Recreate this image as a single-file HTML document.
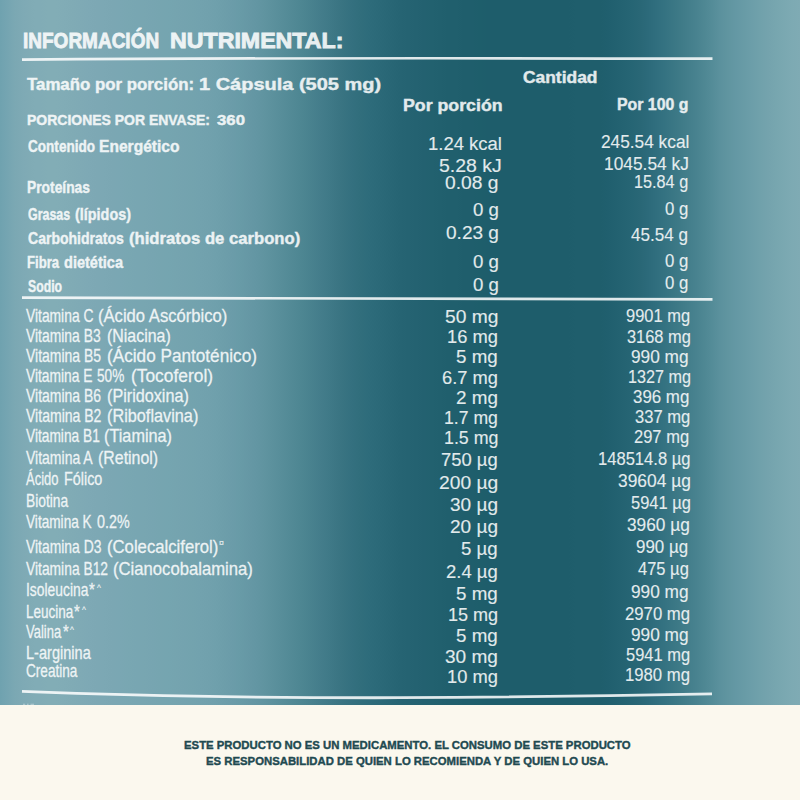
<!DOCTYPE html>
<html lang="es">
<head>
<meta charset="utf-8">
<title>Información Nutrimental</title>
<style>
html,body{margin:0;padding:0;}
body{width:800px;height:800px;overflow:hidden;background:#fbf8ee;font-family:"Liberation Sans",sans-serif;}
#label{position:absolute;left:0;top:0;width:800px;height:800px;overflow:hidden;background:#fbf8ee;}
#panel{position:absolute;left:0;top:0;width:800px;height:704.5px;
background:linear-gradient(90deg,#6fa2af 0px,#73a4b1 5px,#77a6b2 10px,#7ba8b3 15px,#7da9b4 20px,#7faab5 25px,#80abb5 30px,#81acb6 35px,#81acb6 40px,#82adb6 48px,#82adb6 56px,#81acb6 64px,#80abb5 72px,#7faab5 80px,#7ea9b5 88px,#7da8b4 96px,#7ca8b4 104px,#7ba7b3 112px,#7aa7b3 120px,#79a7b2 128px,#78a6b2 136px,#78a6b1 144px,#77a5b1 152px,#76a5b0 160px,#75a5b0 168px,#75a4af 176px,#74a3af 184px,#73a3ae 192px,#72a2ae 200px,#71a1ad 208px,#6fa0ac 216px,#6d9eaa 224px,#6b9ca9 232px,#689ba7 240px,#6698a5 248px,#6396a3 256px,#6094a0 264px,#5c919d 272px,#588e9a 280px,#548b97 288px,#508894 296px,#4c8591 304px,#48818e 312px,#447d8b 320px,#407a88 328px,#3c7684 336px,#387381 344px,#34707f 352px,#316e7c 360px,#2e6c7b 368px,#2c6a79 376px,#2a6877 384px,#286675 392px,#266473 400px,#256372 408px,#246271 416px,#236170 424px,#22616f 432px,#21606e 440px,#205f6d 448px,#205f6d 456px,#1f5e6c 464px,#1f5e6c 472px,#1e5e6b 480px,#1e5d6b 488px,#1e5d6b 496px,#1e5d6b 504px,#1e5d6b 512px,#1e5d6b 520px,#1e5d6b 528px,#1e5d6b 536px,#1e5d6b 544px,#1e5d6b 552px,#1e5d6b 560px,#1e5d6b 568px,#1f5e6c 576px,#1f5e6c 584px,#1f5e6c 592px,#1f5e6c 600px,#205f6e 608px,#226170 616px,#246372 624px,#266574 632px,#296776 640px,#2c6a7a 648px,#306e7e 656px,#347281 664px,#397684 672px,#3e7a87 680px,#437e8b 688px,#48828f 696px,#4e8793 704px,#548c98 712px,#5b919d 720px,#6095a0 728px,#6498a4 736px,#689ba6 744px,#6c9ea9 752px,#70a1ab 760px,#74a3ad 768px,#77a6af 776px,#7aa8b1 784px,#7daab3 792px,#7fabb4 800px);}
.t{position:absolute;white-space:pre;line-height:1;color:#fff;opacity:.87;transform-origin:0 0;font-weight:400;}
svg{position:absolute;left:0;top:0;}
</style>
</head>
<body>
<div id="label">
<div id="panel"></div>
<svg width="800" height="800" viewBox="0 0 800 800" fill="none" stroke="#fff" stroke-opacity=".86" stroke-width="2.7" stroke-linecap="butt">
<path d="M22 59.6 Q 300 57.5 712.5 58.7"/>
<path d="M22 297.7 Q 350 299.9 712.5 299.4"/>
<path d="M22 691.4 C 150 696.6 300 697.9 400 697.7 C 520 697.2 620 695.7 712 693.8" stroke-width="2.8"/>
<path d="M23 704.2h2.2M27 704.2h1.6M30.5 704.2h3.5" stroke-width="1.1" opacity=".5"/>
</svg>
<div class="t" style="left:23.02px;top:29.01px;font-size:22.8px;transform:scaleX(0.8334);font-weight:700;-webkit-text-stroke:0.9px #fff;">INFORMACIÓN</div>
<div class="t" style="left:169.83px;top:29.01px;font-size:22.8px;transform:scaleX(1.0171);font-weight:700;-webkit-text-stroke:0.9px #fff;">NUTRIMENTAL:</div>
<div class="t" style="left:27.20px;top:76.21px;font-size:16.3px;transform:scaleX(1.0338);font-weight:700;-webkit-text-stroke:0.4px #fff;">Tamaño por porción:</div>
<div class="t" style="left:199.03px;top:76.40px;font-size:17.0px;transform:scaleX(1.1750);font-weight:700;-webkit-text-stroke:0.4px #fff;">1 Cápsula (505 mg)</div>
<div class="t" style="left:523.20px;top:70.25px;font-size:16px;transform:scaleX(1.0876);font-weight:700;-webkit-text-stroke:0.4px #fff;">Cantidad</div>
<div class="t" style="left:402.84px;top:98.25px;font-size:16px;transform:scaleX(1.1090);font-weight:700;-webkit-text-stroke:0.4px #fff;">Por porción</div>
<div class="t" style="left:617.46px;top:97.00px;font-size:16px;transform:scaleX(0.9906);font-weight:700;-webkit-text-stroke:0.4px #fff;">Por 100 g</div>
<div class="t" style="left:27.20px;top:114.10px;font-size:13.8px;transform:scaleX(1.0129);font-weight:700;-webkit-text-stroke:0.4px #fff;">PORCIONES POR ENVASE:</div>
<div class="t" style="left:217.20px;top:114.10px;font-size:13.8px;transform:scaleX(1.2143);font-weight:700;-webkit-text-stroke:0.4px #fff;">360</div>
<div class="t" style="left:27.70px;top:138.21px;font-size:16.3px;transform:scaleX(0.8331);font-weight:700;-webkit-text-stroke:0.4px #fff;">Contenido</div>
<div class="t" style="left:99.24px;top:138.21px;font-size:16.3px;transform:scaleX(0.9568);font-weight:700;-webkit-text-stroke:0.4px #fff;">Energético</div>
<div class="t" style="left:26.85px;top:179.21px;font-size:16.3px;transform:scaleX(0.8490);font-weight:700;-webkit-text-stroke:0.4px #fff;">Proteínas</div>
<div class="t" style="left:27.70px;top:205.71px;font-size:16.3px;transform:scaleX(0.7632);font-weight:700;-webkit-text-stroke:0.4px #fff;">Grasas</div>
<div class="t" style="left:75.20px;top:205.71px;font-size:16.3px;transform:scaleX(0.8842);font-weight:700;-webkit-text-stroke:0.4px #fff;">(lípidos)</div>
<div class="t" style="left:27.70px;top:230.01px;font-size:16.3px;transform:scaleX(0.8619);font-weight:700;-webkit-text-stroke:0.4px #fff;">Carbohidratos</div>
<div class="t" style="left:128.95px;top:230.01px;font-size:16.3px;transform:scaleX(1.0235);font-weight:700;-webkit-text-stroke:0.4px #fff;">(hidratos de carbono)</div>
<div class="t" style="left:26.89px;top:254.21px;font-size:16.3px;transform:scaleX(0.8075);font-weight:700;-webkit-text-stroke:0.4px #fff;">Fibra</div>
<div class="t" style="left:63.95px;top:254.21px;font-size:16.3px;transform:scaleX(0.8933);font-weight:700;-webkit-text-stroke:0.4px #fff;">dietética</div>
<div class="t" style="left:27.70px;top:277.51px;font-size:16.3px;transform:scaleX(0.7532);font-weight:700;-webkit-text-stroke:0.4px #fff;">Sodio</div>
<div class="t" style="left:428.28px;top:134.51px;font-size:18.0px;transform:scaleX(1.0262);-webkit-text-stroke:0.12px #fff;">1.24 kcal</div>
<div class="t" style="left:439.06px;top:156.76px;font-size:18.0px;transform:scaleX(1.0806);-webkit-text-stroke:0.12px #fff;">5.28 kJ</div>
<div class="t" style="left:445.06px;top:173.76px;font-size:18.0px;transform:scaleX(1.0682);-webkit-text-stroke:0.12px #fff;">0.08 g</div>
<div class="t" style="left:472.56px;top:200.51px;font-size:18.0px;transform:scaleX(1.0362);-webkit-text-stroke:0.12px #fff;">0 g</div>
<div class="t" style="left:445.56px;top:223.76px;font-size:18.0px;transform:scaleX(1.0580);-webkit-text-stroke:0.12px #fff;">0.23 g</div>
<div class="t" style="left:472.56px;top:253.01px;font-size:18.0px;transform:scaleX(1.0362);-webkit-text-stroke:0.12px #fff;">0 g</div>
<div class="t" style="left:472.56px;top:275.51px;font-size:18.0px;transform:scaleX(1.0362);-webkit-text-stroke:0.12px #fff;">0 g</div>
<div class="t" style="left:600.81px;top:133.26px;font-size:18.0px;transform:scaleX(0.9595);-webkit-text-stroke:0.12px #fff;">245.54 kcal</div>
<div class="t" style="left:604.10px;top:155.01px;font-size:18.0px;transform:scaleX(0.9630);-webkit-text-stroke:0.12px #fff;">1045.54 kJ</div>
<div class="t" style="left:634.16px;top:173.26px;font-size:18.0px;transform:scaleX(0.9024);-webkit-text-stroke:0.12px #fff;">15.84 g</div>
<div class="t" style="left:665.06px;top:200.01px;font-size:18.0px;transform:scaleX(0.9320);-webkit-text-stroke:0.12px #fff;">0 g</div>
<div class="t" style="left:631.31px;top:226.26px;font-size:18.0px;transform:scaleX(0.9506);-webkit-text-stroke:0.12px #fff;">45.54 g</div>
<div class="t" style="left:665.06px;top:252.01px;font-size:18.0px;transform:scaleX(0.9320);-webkit-text-stroke:0.12px #fff;">0 g</div>
<div class="t" style="left:665.06px;top:273.76px;font-size:18.0px;transform:scaleX(0.9320);-webkit-text-stroke:0.12px #fff;">0 g</div>
<div class="t" style="left:26.39px;top:308.41px;font-size:17.9px;transform:scaleX(0.7733);-webkit-text-stroke:0.28px #fff;">Vitamina C</div>
<div class="t" style="left:98.01px;top:308.41px;font-size:17.9px;transform:scaleX(0.9290);-webkit-text-stroke:0.28px #fff;">(Ácido Ascórbico)</div>
<div class="t" style="left:26.39px;top:328.41px;font-size:17.9px;transform:scaleX(0.7763);-webkit-text-stroke:0.28px #fff;">Vitamina B3</div>
<div class="t" style="left:106.95px;top:328.41px;font-size:17.9px;transform:scaleX(0.8908);-webkit-text-stroke:0.28px #fff;">(Niacina)</div>
<div class="t" style="left:26.39px;top:348.41px;font-size:17.9px;transform:scaleX(0.7805);-webkit-text-stroke:0.28px #fff;">Vitamina B5</div>
<div class="t" style="left:106.88px;top:348.41px;font-size:17.9px;transform:scaleX(0.9601);-webkit-text-stroke:0.28px #fff;">(Ácido Pantoténico)</div>
<div class="t" style="left:26.39px;top:368.41px;font-size:17.9px;transform:scaleX(0.7718);-webkit-text-stroke:0.28px #fff;">Vitamina E</div>
<div class="t" style="left:97.34px;top:368.41px;font-size:17.9px;transform:scaleX(0.7610);-webkit-text-stroke:0.28px #fff;">50%</div>
<div class="t" style="left:131.27px;top:368.41px;font-size:17.9px;transform:scaleX(0.9706);-webkit-text-stroke:0.28px #fff;">(Tocoferol)</div>
<div class="t" style="left:26.39px;top:388.41px;font-size:17.9px;transform:scaleX(0.7805);-webkit-text-stroke:0.28px #fff;">Vitamina B6</div>
<div class="t" style="left:106.94px;top:388.41px;font-size:17.9px;transform:scaleX(0.9040);-webkit-text-stroke:0.28px #fff;">(Piridoxina)</div>
<div class="t" style="left:26.39px;top:408.41px;font-size:17.9px;transform:scaleX(0.7846);-webkit-text-stroke:0.28px #fff;">Vitamina B2</div>
<div class="t" style="left:106.93px;top:408.41px;font-size:17.9px;transform:scaleX(0.9091);-webkit-text-stroke:0.28px #fff;">(Riboflavina)</div>
<div class="t" style="left:26.39px;top:428.16px;font-size:17.9px;transform:scaleX(0.7680);-webkit-text-stroke:0.28px #fff;">Vitamina B1</div>
<div class="t" style="left:103.73px;top:428.16px;font-size:17.9px;transform:scaleX(0.9081);-webkit-text-stroke:0.28px #fff;">(Tiamina)</div>
<div class="t" style="left:26.39px;top:450.16px;font-size:17.9px;transform:scaleX(0.7822);-webkit-text-stroke:0.28px #fff;">Vitamina A</div>
<div class="t" style="left:98.05px;top:450.16px;font-size:17.9px;transform:scaleX(0.8899);-webkit-text-stroke:0.28px #fff;">(Retinol)</div>
<div class="t" style="left:26.39px;top:471.41px;font-size:17.9px;transform:scaleX(0.7247);-webkit-text-stroke:0.28px #fff;">Ácido</div>
<div class="t" style="left:64.04px;top:471.41px;font-size:17.9px;transform:scaleX(0.8022);-webkit-text-stroke:0.28px #fff;">Fólico</div>
<div class="t" style="left:25.62px;top:492.66px;font-size:17.9px;transform:scaleX(0.7715);-webkit-text-stroke:0.28px #fff;">Biotina</div>
<div class="t" style="left:26.39px;top:514.41px;font-size:17.9px;transform:scaleX(0.7625);-webkit-text-stroke:0.28px #fff;">Vitamina K</div>
<div class="t" style="left:97.34px;top:514.41px;font-size:17.9px;transform:scaleX(0.8006);-webkit-text-stroke:0.28px #fff;">0.2%</div>
<div class="t" style="left:26.39px;top:538.66px;font-size:17.9px;transform:scaleX(0.7767);-webkit-text-stroke:0.28px #fff;">Vitamina D3</div>
<div class="t" style="left:106.91px;top:538.66px;font-size:17.9px;transform:scaleX(0.9333);-webkit-text-stroke:0.28px #fff;">(Colecalciferol)</div>
<div class="t" style="left:26.39px;top:560.91px;font-size:17.9px;transform:scaleX(0.7733);-webkit-text-stroke:0.28px #fff;">Vitamina B12</div>
<div class="t" style="left:113.41px;top:560.91px;font-size:17.9px;transform:scaleX(0.9313);-webkit-text-stroke:0.28px #fff;">(Cianocobalamina)</div>
<div class="t" style="left:25.62px;top:582.21px;font-size:17.9px;transform:scaleX(0.7746);-webkit-text-stroke:0.28px #fff;">Isoleucina</div>
<div class="t" style="left:89.34px;top:582.21px;font-size:17.9px;transform:scaleX(0.8314);-webkit-text-stroke:0.28px #fff;">*</div>
<div class="t" style="left:25.63px;top:603.71px;font-size:17.9px;transform:scaleX(0.7562);-webkit-text-stroke:0.28px #fff;">Leucina</div>
<div class="t" style="left:74.34px;top:603.71px;font-size:17.9px;transform:scaleX(0.8314);-webkit-text-stroke:0.28px #fff;">*</div>
<div class="t" style="left:26.39px;top:624.21px;font-size:17.9px;transform:scaleX(0.7258);-webkit-text-stroke:0.28px #fff;">Valina</div>
<div class="t" style="left:62.84px;top:624.21px;font-size:17.9px;transform:scaleX(0.8314);-webkit-text-stroke:0.28px #fff;">*</div>
<div class="t" style="left:25.58px;top:644.50px;font-size:17.9px;transform:scaleX(0.8137);-webkit-text-stroke:0.28px #fff;">L-arginina</div>
<div class="t" style="left:26.39px;top:663.00px;font-size:17.9px;transform:scaleX(0.7606);-webkit-text-stroke:0.28px #fff;">Creatina</div>
<div class="t" style="left:218.56px;top:539.01px;font-size:9px;transform:scaleX(0.9760);-webkit-text-stroke:0.12px #fff;">¤</div>
<div class="t" style="left:96.56px;top:583.01px;font-size:9.5px;transform:scaleX(0.8760);-webkit-text-stroke:0.12px #fff;">^</div>
<div class="t" style="left:81.56px;top:604.51px;font-size:9.5px;transform:scaleX(0.8760);-webkit-text-stroke:0.12px #fff;">^</div>
<div class="t" style="left:70.06px;top:625.01px;font-size:9.5px;transform:scaleX(0.8760);-webkit-text-stroke:0.12px #fff;">^</div>
<div class="t" style="left:444.56px;top:307.51px;font-size:18.0px;transform:scaleX(1.0686);-webkit-text-stroke:0.12px #fff;">50 mg</div>
<div class="t" style="left:447.04px;top:328.01px;font-size:18.0px;transform:scaleX(1.0180);-webkit-text-stroke:0.12px #fff;">16 mg</div>
<div class="t" style="left:456.31px;top:348.01px;font-size:18.0px;transform:scaleX(1.0416);-webkit-text-stroke:0.12px #fff;">5 mg</div>
<div class="t" style="left:442.06px;top:368.76px;font-size:18.0px;transform:scaleX(1.0160);-webkit-text-stroke:0.12px #fff;">6.7 mg</div>
<div class="t" style="left:456.06px;top:388.76px;font-size:18.0px;transform:scaleX(1.0480);-webkit-text-stroke:0.12px #fff;">2 mg</div>
<div class="t" style="left:444.08px;top:408.76px;font-size:18.0px;transform:scaleX(0.9785);-webkit-text-stroke:0.12px #fff;">1.7 mg</div>
<div class="t" style="left:443.57px;top:428.76px;font-size:18.0px;transform:scaleX(0.9880);-webkit-text-stroke:0.12px #fff;">1.5 mg</div>
<div class="t" style="left:441.31px;top:451.26px;font-size:18.0px;transform:scaleX(1.0225);-webkit-text-stroke:0.12px #fff;">750 µg</div>
<div class="t" style="left:438.81px;top:473.76px;font-size:18.0px;transform:scaleX(1.0685);-webkit-text-stroke:0.12px #fff;">200 µg</div>
<div class="t" style="left:450.06px;top:495.51px;font-size:18.0px;transform:scaleX(1.0560);-webkit-text-stroke:0.12px #fff;">30 µg</div>
<div class="t" style="left:450.06px;top:518.01px;font-size:18.0px;transform:scaleX(1.0560);-webkit-text-stroke:0.12px #fff;">20 µg</div>
<div class="t" style="left:461.31px;top:540.01px;font-size:18.0px;transform:scaleX(1.0363);-webkit-text-stroke:0.12px #fff;">5 µg</div>
<div class="t" style="left:446.31px;top:563.01px;font-size:18.0px;transform:scaleX(1.0250);-webkit-text-stroke:0.12px #fff;">2.4 µg</div>
<div class="t" style="left:456.31px;top:584.51px;font-size:18.0px;transform:scaleX(1.0416);-webkit-text-stroke:0.12px #fff;">5 mg</div>
<div class="t" style="left:447.81px;top:606.26px;font-size:18.0px;transform:scaleX(1.0024);-webkit-text-stroke:0.12px #fff;">15 mg</div>
<div class="t" style="left:456.31px;top:627.01px;font-size:18.0px;transform:scaleX(1.0416);-webkit-text-stroke:0.12px #fff;">5 mg</div>
<div class="t" style="left:445.06px;top:647.51px;font-size:18.0px;transform:scaleX(1.0584);-webkit-text-stroke:0.12px #fff;">30 mg</div>
<div class="t" style="left:447.04px;top:667.51px;font-size:18.0px;transform:scaleX(1.0180);-webkit-text-stroke:0.12px #fff;">10 mg</div>
<div class="t" style="left:625.56px;top:307.01px;font-size:18.0px;transform:scaleX(0.9144);-webkit-text-stroke:0.12px #fff;">9901 mg</div>
<div class="t" style="left:627.06px;top:327.51px;font-size:18.0px;transform:scaleX(0.9108);-webkit-text-stroke:0.12px #fff;">3168 mg</div>
<div class="t" style="left:631.31px;top:347.51px;font-size:18.0px;transform:scaleX(0.9594);-webkit-text-stroke:0.12px #fff;">990 mg</div>
<div class="t" style="left:627.91px;top:367.51px;font-size:18.0px;transform:scaleX(0.8985);-webkit-text-stroke:0.12px #fff;">1327 mg</div>
<div class="t" style="left:632.56px;top:387.51px;font-size:18.0px;transform:scaleX(0.9382);-webkit-text-stroke:0.12px #fff;">396 mg</div>
<div class="t" style="left:635.06px;top:407.51px;font-size:18.0px;transform:scaleX(0.9213);-webkit-text-stroke:0.12px #fff;">337 mg</div>
<div class="t" style="left:633.81px;top:427.51px;font-size:18.0px;transform:scaleX(0.9170);-webkit-text-stroke:0.12px #fff;">297 mg</div>
<div class="t" style="left:597.89px;top:450.01px;font-size:18.0px;transform:scaleX(0.9206);-webkit-text-stroke:0.12px #fff;">148514.8 µg</div>
<div class="t" style="left:617.56px;top:472.01px;font-size:18.0px;transform:scaleX(0.9658);-webkit-text-stroke:0.12px #fff;">39604 µg</div>
<div class="t" style="left:630.56px;top:493.76px;font-size:18.0px;transform:scaleX(0.9141);-webkit-text-stroke:0.12px #fff;">5941 µg</div>
<div class="t" style="left:627.06px;top:515.51px;font-size:18.0px;transform:scaleX(0.9606);-webkit-text-stroke:0.12px #fff;">3960 µg</div>
<div class="t" style="left:636.31px;top:537.51px;font-size:18.0px;transform:scaleX(0.9398);-webkit-text-stroke:0.12px #fff;">990 µg</div>
<div class="t" style="left:638.06px;top:559.51px;font-size:18.0px;transform:scaleX(0.9168);-webkit-text-stroke:0.12px #fff;">475 µg</div>
<div class="t" style="left:631.31px;top:582.51px;font-size:18.0px;transform:scaleX(0.9594);-webkit-text-stroke:0.12px #fff;">990 mg</div>
<div class="t" style="left:624.56px;top:605.01px;font-size:18.0px;transform:scaleX(0.9289);-webkit-text-stroke:0.12px #fff;">2970 mg</div>
<div class="t" style="left:631.31px;top:625.51px;font-size:18.0px;transform:scaleX(0.9594);-webkit-text-stroke:0.12px #fff;">990 mg</div>
<div class="t" style="left:626.31px;top:646.26px;font-size:18.0px;transform:scaleX(0.9144);-webkit-text-stroke:0.12px #fff;">5941 mg</div>
<div class="t" style="left:625.38px;top:666.26px;font-size:18.0px;transform:scaleX(0.9279);-webkit-text-stroke:0.12px #fff;">1980 mg</div>
<div class="t" style="left:183.60px;top:739.25px;font-size:11.7px;transform:scaleX(0.9704);font-weight:700;color:#1f4a51;opacity:1;-webkit-text-stroke:0.4px #1f4a51;">ESTE PRODUCTO NO ES UN MEDICAMENTO. EL CONSUMO DE ESTE PRODUCTO</div>
<div class="t" style="left:205.70px;top:754.50px;font-size:11.7px;transform:scaleX(0.9699);font-weight:700;color:#1f4a51;opacity:1;-webkit-text-stroke:0.4px #1f4a51;">ES RESPONSABILIDAD DE QUIEN LO RECOMIENDA Y DE QUIEN LO USA.</div>
</div>
</body>
</html>
